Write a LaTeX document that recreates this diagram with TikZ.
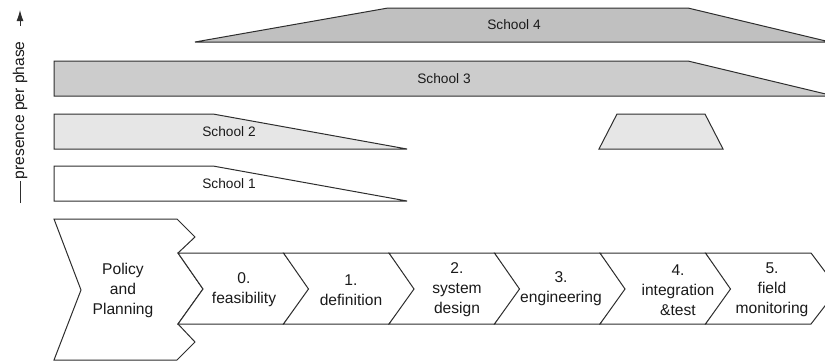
\documentclass[tikz,border=0pt]{standalone}
\usepackage{fontspec}
\setmainfont{Liberation Sans}
\usetikzlibrary{arrows.meta}
\definecolor{edge}{HTML}{2E2E2E}
\definecolor{schooldark}{HTML}{C0C0C0}
\definecolor{schoolmid}{HTML}{CCCCCC}
\definecolor{schoollight}{HTML}{E6E6E6}
\definecolor{ink}{HTML}{1A1A1A}
\begin{document}
\begin{tikzpicture}[x=1pt,y=-1pt,
  band/.style={draw=edge, line width=1pt, line join=miter},
  schooltext/.style={font=\fontsize{13.7}{16}\selectfont, text=ink, inner sep=0pt},
  phasetext/.style={font=\fontsize{15.6}{20}\selectfont, text=ink, align=center, inner sep=0pt},
]
\useasboundingbox (0,0) rectangle (825,362);
\clip (0,0) rectangle (825,362);

% presence of each school over the phases
\draw[band, fill=schooldark] (195,42) -- (388,8) -- (688,8) -- (830,42) -- cycle;
\node[schooltext] (s4) at (514,25) {School 4};
\draw[band, fill=schoolmid] (54,61) -- (688,61) -- (834,96) -- (54,96) -- cycle;
\node[schooltext] (s3) at (444,78.5) {School 3};
\draw[band, fill=schoollight] (54,114) -- (213,114) -- (407,149) -- (54,149) -- cycle;
\node[schooltext] (s2) at (229,131.5) {School 2};
\draw[band, fill=schoollight] (617,114) -- (705,114) -- (723,149) -- (599,149) -- cycle;
\draw[band, fill=white] (54,166) -- (213,166) -- (407,201) -- (54,201) -- cycle;
\node[schooltext] (s1) at (229,184) {School 1};

% vertical axis label
\node[phasetext, rotate=90, anchor=west] (axis) at (20,179.5) {presence per phase};
\coordinate (axlo) at (20,203);
\coordinate (arrtail) at (20,26);
\coordinate (arrtip) at (20,10);
\draw[edge, line width=1pt] (axlo) -- ([yshift=-1.5pt]axis.west);
\draw[edge, line width=1pt, -{Latex[length=11pt,width=7pt]}] (arrtail) -- (arrtip);

% policy and planning block
\draw[band, fill=white] (54,219) -- (177,219) -- (195,237) -- (178,253) -- (203,289)
  -- (178,324) -- (195,342) -- (177,360) -- (54,360) -- (81,290) -- cycle;
\node[phasetext] (policy) at (123,290) {Policy\\and\\Planning};

% phase chevrons
\foreach \i in {0,...,5}{
  \pgfmathsetmacro{\xl}{178+105.5*\i}
  \pgfmathsetmacro{\xr}{\xl+105.5}
  \draw[band, fill=white] (\xl,253) -- (\xr,253) -- (\xr+27,289) -- (\xr,324)
    -- (\xl,324) -- (\xl+25,289) -- cycle;
}
\node[phasetext] (p0) at (244,290) {0.\\feasibility};
\node[phasetext] (p1) at (351,290) {1.\\definition};
\node[phasetext] (p2) at (457,290) {2.\\system\\design};
\node[phasetext] (p3) at (561,289) {3.\\engineering};
\node[phasetext] (p4) at (678,290) {4.\\integration\\\&test};
\node[phasetext] (p5) at (772,290) {5.\\field\\monitoring};
\end{tikzpicture}
\end{document}
